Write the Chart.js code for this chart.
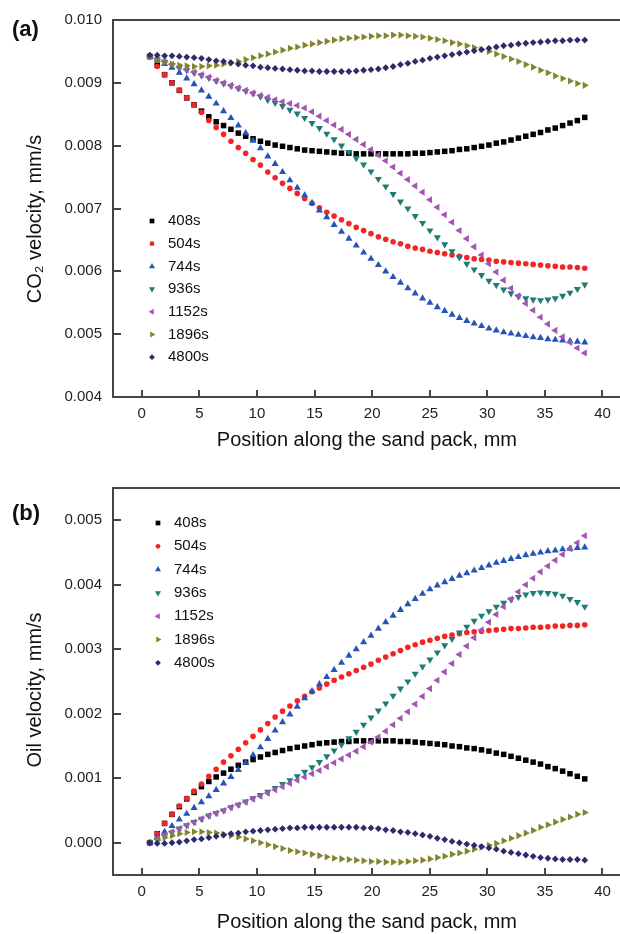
<!DOCTYPE html>
<html>
<head>
<meta charset="utf-8">
<title>CO2 and oil velocity along the sand pack</title>
<script src="https://cdn.jsdelivr.net/npm/chart.js@4.4.1/dist/chart.umd.min.js"></script>
<style>
  body { margin: 0; background: #fff; }
  #wrap { position: relative; width: 620px; height: 934px; overflow: hidden; font-family: 'Liberation Sans', Arial, sans-serif; }
  #wrap canvas { position: absolute; left: 0; }
  #chartA { top: 0; }
  #chartB { top: 460px; }
  .panel { position: absolute; left: 12px; font-size: 22px; line-height: 22px; font-weight: bold; color: #111; }
</style>
</head>
<body>
<div id="wrap">
  <canvas id="chartA" width="625" height="455"></canvas>
  <canvas id="chartB" width="625" height="474"></canvas>
  <div class="panel" style="top:18px">(a)</div>
  <div class="panel" style="top:502px">(b)</div>
</div>
<script>
'use strict';

var seriesNames = ['408s', '504s', '744s', '936s', '1152s', '1896s', '4800s'];
var seriesColors = ['#000000', '#f42424', '#2354b8', '#1d7c74', '#a454b4', '#84842c', '#2c2c6c'];
var pointStyles = ['rect', 'circle', 'triangle', 'triangle', 'triangle', 'triangle', 'rectRot'];
var pointRotations = [0, 0, 0, 180, 270, 90, 0];
var pointRadii = [3.9, 2.8, 4.1, 4.1, 4.1, 4.1, 3.4];

// positions along the sand pack, mm
var positions = [
  0.70, 1.34, 1.98, 2.62, 3.26, 3.90, 4.54, 5.18, 5.82, 6.46,
  7.10, 7.74, 8.38, 9.02, 9.66, 10.30, 10.94, 11.58, 12.22, 12.86,
  13.50, 14.14, 14.78, 15.42, 16.06, 16.70, 17.34, 17.98, 18.62, 19.26,
  19.90, 20.54, 21.18, 21.82, 22.46, 23.10, 23.74, 24.38, 25.02, 25.66,
  26.30, 26.94, 27.58, 28.22, 28.86, 29.50, 30.14, 30.78, 31.42, 32.06,
  32.70, 33.34, 33.98, 34.62, 35.26, 35.90, 36.54, 37.18, 37.82, 38.46
];

var xTicks = [0, 5, 10, 15, 20, 25, 30, 35, 40];
var co2Ticks = [0.004, 0.005, 0.006, 0.007, 0.008, 0.009, 0.010];
var oilTicks = [0.000, 0.001, 0.002, 0.003, 0.004, 0.005];

// CO2 velocity, mm/s
var co2_408 = [
  0.00942, 0.00928, 0.00913, 0.00900, 0.00888, 0.00876, 0.00865, 0.00855, 0.00846, 0.00838,
  0.00832, 0.00826, 0.00820, 0.00815, 0.00811, 0.00807, 0.00804, 0.00801, 0.00799, 0.00797,
  0.00795, 0.00793, 0.00792, 0.00791, 0.00790, 0.00789, 0.00788, 0.00788, 0.00787, 0.00787,
  0.00787, 0.00787, 0.00787, 0.00787, 0.00787, 0.00787, 0.00788, 0.00788, 0.00789, 0.00790,
  0.00791, 0.00792, 0.00794, 0.00795, 0.00797, 0.00799, 0.00801, 0.00804, 0.00806, 0.00809,
  0.00812, 0.00815, 0.00818, 0.00821, 0.00825, 0.00828, 0.00832, 0.00836, 0.00840, 0.00845
];
var co2_504 = [
  0.00942, 0.00926, 0.00913, 0.00900, 0.00888, 0.00876, 0.00865, 0.00853, 0.00840, 0.00829,
  0.00818, 0.00807, 0.00797, 0.00788, 0.00778, 0.00769, 0.00758, 0.00749, 0.00740, 0.00732,
  0.00724, 0.00716, 0.00708, 0.00701, 0.00694, 0.00688, 0.00682, 0.00676, 0.00670, 0.00665,
  0.00660, 0.00655, 0.00651, 0.00647, 0.00644, 0.00640, 0.00637, 0.00635, 0.00632, 0.00630,
  0.00628, 0.00626, 0.00624, 0.00622, 0.00620, 0.00619, 0.00618, 0.00616, 0.00615, 0.00614,
  0.00613, 0.00612, 0.00611, 0.00610, 0.00609, 0.00608, 0.00607, 0.00607, 0.00606, 0.00605
];
var co2_744 = [
  0.00942, 0.00937, 0.00930, 0.00924, 0.00916, 0.00907, 0.00898, 0.00888, 0.00878, 0.00867,
  0.00855, 0.00844, 0.00832, 0.00820, 0.00808, 0.00796, 0.00783, 0.00771, 0.00758, 0.00745,
  0.00733, 0.00721, 0.00709, 0.00697, 0.00686, 0.00674, 0.00663, 0.00652, 0.00641, 0.00630,
  0.00620, 0.00610, 0.00600, 0.00591, 0.00582, 0.00573, 0.00565, 0.00557, 0.00550, 0.00543,
  0.00537, 0.00531, 0.00526, 0.00521, 0.00517, 0.00513, 0.00509, 0.00506, 0.00503, 0.00501,
  0.00499, 0.00497, 0.00495, 0.00494, 0.00492, 0.00491, 0.00490, 0.00489, 0.00488, 0.00487
];
var co2_936 = [
  0.00942, 0.00937, 0.00933, 0.00928, 0.00924, 0.00920, 0.00916, 0.00912, 0.00908, 0.00903,
  0.00899, 0.00895, 0.00891, 0.00887, 0.00883, 0.00878, 0.00873, 0.00868, 0.00863, 0.00857,
  0.00851, 0.00844, 0.00836, 0.00828, 0.00819, 0.00810, 0.00800, 0.00790, 0.00780, 0.00770,
  0.00759, 0.00747, 0.00735, 0.00723, 0.00711, 0.00700, 0.00688, 0.00677, 0.00665, 0.00654,
  0.00643, 0.00632, 0.00622, 0.00612, 0.00603, 0.00594, 0.00585, 0.00578, 0.00571, 0.00565,
  0.00560, 0.00557, 0.00555, 0.00554, 0.00555, 0.00557, 0.00561, 0.00566, 0.00572, 0.00579
];
var co2_1152 = [
  0.00942, 0.00938, 0.00934, 0.00929, 0.00925, 0.00921, 0.00917, 0.00913, 0.00909, 0.00904,
  0.00900, 0.00896, 0.00892, 0.00888, 0.00884, 0.00880, 0.00877, 0.00873, 0.00870, 0.00867,
  0.00864, 0.00860, 0.00854, 0.00847, 0.00840, 0.00833, 0.00826, 0.00818, 0.00810, 0.00802,
  0.00794, 0.00785, 0.00776, 0.00766, 0.00756, 0.00746, 0.00736, 0.00726, 0.00714, 0.00702,
  0.00690, 0.00678, 0.00665, 0.00652, 0.00639, 0.00626, 0.00612, 0.00599, 0.00586, 0.00573,
  0.00561, 0.00549, 0.00538, 0.00527, 0.00516, 0.00506, 0.00496, 0.00487, 0.00478, 0.00470
];
var co2_1896 = [
  0.00942, 0.00937, 0.00933, 0.00930, 0.00928, 0.00927, 0.00926, 0.00926, 0.00927, 0.00928,
  0.00930, 0.00932, 0.00934, 0.00937, 0.00940, 0.00943, 0.00946, 0.00949, 0.00952, 0.00955,
  0.00957, 0.00960, 0.00962, 0.00964, 0.00966, 0.00968, 0.00970, 0.00971, 0.00972, 0.00973,
  0.00974, 0.00975, 0.00975, 0.00976, 0.00976, 0.00975, 0.00974, 0.00973, 0.00971, 0.00969,
  0.00967, 0.00964, 0.00962, 0.00959, 0.00956, 0.00953, 0.00950, 0.00946, 0.00942, 0.00938,
  0.00934, 0.00929, 0.00925, 0.00920, 0.00916, 0.00911, 0.00907, 0.00903, 0.00899, 0.00896
];
var co2_4800 = [
  0.00944, 0.00944, 0.00943, 0.00943, 0.00942, 0.00941, 0.00940, 0.00939, 0.00937, 0.00935,
  0.00934, 0.00932, 0.00930, 0.00928, 0.00927, 0.00925, 0.00924, 0.00923, 0.00922, 0.00921,
  0.00920, 0.00919, 0.00919, 0.00918, 0.00918, 0.00918, 0.00918, 0.00918, 0.00919, 0.00920,
  0.00921, 0.00922, 0.00924, 0.00926, 0.00929, 0.00931, 0.00934, 0.00936, 0.00939, 0.00941,
  0.00943, 0.00945, 0.00947, 0.00949, 0.00951, 0.00953, 0.00955, 0.00957, 0.00959, 0.00960,
  0.00962, 0.00963, 0.00964, 0.00965, 0.00966, 0.00967, 0.00967, 0.00968, 0.00968, 0.00968
];

// Oil velocity, mm/s
var oil_408 = [
  0.00000, 0.00014, 0.00030, 0.00044, 0.00056, 0.00068, 0.00078, 0.00087, 0.00095, 0.00102,
  0.00108, 0.00114, 0.00120, 0.00125, 0.00129, 0.00133, 0.00137, 0.00140, 0.00143, 0.00146,
  0.00148, 0.00150, 0.00152, 0.00154, 0.00155, 0.00156, 0.00157, 0.00157, 0.00158, 0.00158,
  0.00158, 0.00158, 0.00158, 0.00158, 0.00157, 0.00157, 0.00156, 0.00155, 0.00154, 0.00153,
  0.00152, 0.00150, 0.00149, 0.00147, 0.00146, 0.00144, 0.00142, 0.00139, 0.00137, 0.00134,
  0.00131, 0.00128, 0.00125, 0.00122, 0.00118, 0.00115, 0.00111, 0.00107, 0.00103, 0.00099
];
var oil_504 = [
  0.00000, 0.00014, 0.00030, 0.00044, 0.00057, 0.00069, 0.00080, 0.00091, 0.00103, 0.00114,
  0.00125, 0.00135, 0.00145, 0.00155, 0.00165, 0.00175, 0.00185, 0.00195, 0.00204, 0.00212,
  0.00220, 0.00227, 0.00234, 0.00240, 0.00246, 0.00252, 0.00257, 0.00262, 0.00267, 0.00272,
  0.00277, 0.00283, 0.00288, 0.00293, 0.00298, 0.00303, 0.00307, 0.00311, 0.00314, 0.00317,
  0.00320, 0.00322, 0.00324, 0.00326, 0.00327, 0.00328, 0.00329, 0.00330, 0.00331, 0.00332,
  0.00332, 0.00333, 0.00334, 0.00334, 0.00335, 0.00336, 0.00336, 0.00337, 0.00337, 0.00338
];
var oil_744 = [
  0.00000, 0.00008, 0.00017, 0.00026, 0.00036, 0.00045, 0.00054, 0.00063, 0.00072, 0.00082,
  0.00092, 0.00102, 0.00113, 0.00124, 0.00136, 0.00148, 0.00161, 0.00174, 0.00187, 0.00199,
  0.00211, 0.00224, 0.00235, 0.00246, 0.00257, 0.00268, 0.00279, 0.00290, 0.00300, 0.00311,
  0.00321, 0.00332, 0.00342, 0.00352, 0.00361, 0.00370, 0.00378, 0.00386, 0.00393, 0.00399,
  0.00404, 0.00409, 0.00414, 0.00418, 0.00422, 0.00426, 0.00430, 0.00434, 0.00437, 0.00440,
  0.00443, 0.00446, 0.00448, 0.00450, 0.00452, 0.00453, 0.00455, 0.00456, 0.00457, 0.00458
];
var oil_936 = [
  0.00000, 0.00005, 0.00010, 0.00016, 0.00022, 0.00027, 0.00032, 0.00037, 0.00042, 0.00046,
  0.00050, 0.00055, 0.00059, 0.00064, 0.00069, 0.00074, 0.00079, 0.00085, 0.00091, 0.00097,
  0.00103, 0.00110, 0.00117, 0.00125, 0.00134, 0.00143, 0.00152, 0.00162, 0.00172, 0.00183,
  0.00194, 0.00205, 0.00216, 0.00228, 0.00239, 0.00250, 0.00262, 0.00273, 0.00284, 0.00295,
  0.00306, 0.00316, 0.00326, 0.00335, 0.00344, 0.00352, 0.00359, 0.00366, 0.00372, 0.00377,
  0.00381, 0.00385, 0.00387, 0.00388, 0.00387, 0.00386, 0.00383, 0.00378, 0.00373, 0.00366
];
var oil_1152 = [
  0.00000, 0.00006, 0.00012, 0.00017, 0.00022, 0.00027, 0.00032, 0.00037, 0.00042, 0.00046,
  0.00050, 0.00055, 0.00059, 0.00063, 0.00068, 0.00072, 0.00077, 0.00082, 0.00087, 0.00092,
  0.00097, 0.00102, 0.00107, 0.00112, 0.00118, 0.00124, 0.00130, 0.00136, 0.00142, 0.00149,
  0.00156, 0.00164, 0.00173, 0.00183, 0.00193, 0.00203, 0.00215, 0.00227, 0.00239, 0.00252,
  0.00265, 0.00278, 0.00292, 0.00305, 0.00318, 0.00330, 0.00342, 0.00354, 0.00366, 0.00378,
  0.00389, 0.00400, 0.00410, 0.00420, 0.00429, 0.00438, 0.00447, 0.00456, 0.00465, 0.00476
];
var oil_1896 = [
  0.00000, 0.00004, 0.00008, 0.00011, 0.00014, 0.00016, 0.00017, 0.00017, 0.00016, 0.00015,
  0.00013, 0.00011, 0.00009, 0.00006, 0.00003, 0.00000, -0.00003, -0.00006, -0.00009, -0.00012,
  -0.00014, -0.00016, -0.00018, -0.00020, -0.00022, -0.00024, -0.00025, -0.00026, -0.00027, -0.00028,
  -0.00029, -0.00029, -0.00030, -0.00030, -0.00030, -0.00029, -0.00028, -0.00027, -0.00025, -0.00023,
  -0.00021, -0.00018, -0.00016, -0.00013, -0.00010, -0.00007, -0.00004, -0.00001, 0.00003, 0.00007,
  0.00011, 0.00015, 0.00019, 0.00024, 0.00028, 0.00032, 0.00036, 0.00040, 0.00044, 0.00047
];
var oil_4800 = [
  0.00000, -0.00001, -0.00001, 0.00000, 0.00001, 0.00003, 0.00005, 0.00006, 0.00008, 0.00010,
  0.00012, 0.00014, 0.00015, 0.00017, 0.00018, 0.00019, 0.00020, 0.00021, 0.00022, 0.00023,
  0.00023, 0.00024, 0.00024, 0.00024, 0.00024, 0.00024, 0.00024, 0.00024, 0.00024, 0.00023,
  0.00023, 0.00022, 0.00020, 0.00019, 0.00017, 0.00016, 0.00014, 0.00012, 0.00010, 0.00007,
  0.00005, 0.00002, 0.00000, -0.00002, -0.00004, -0.00006, -0.00008, -0.00010, -0.00013, -0.00015,
  -0.00017, -0.00019, -0.00021, -0.00023, -0.00024, -0.00025, -0.00026, -0.00026, -0.00026, -0.00027
];

Chart.defaults.font.family = "'Liberation Sans', Arial, sans-serif";
Chart.defaults.color = '#222';

var AXIS_COLOR = '#444';
var FONT = "'Liberation Sans', Arial, sans-serif";

// later datasets are drawn over earlier ones
function makeDatasets(series) {
  return series.map(function (values, i) {
    return {
      label: seriesNames[i],
      data: values.map(function (v, k) { return { x: positions[k], y: v }; }),
      showLine: false,
      pointStyle: pointStyles[i],
      pointRotation: pointRotations[i],
      pointRadius: pointRadii[i],
      pointHoverRadius: pointRadii[i],
      pointBackgroundColor: seriesColors[i],
      pointBorderColor: seriesColors[i],
      pointBorderWidth: 0,
      order: series.length - i
    };
  });
}

// tick marks point into the plot, plus the closing line along the top
var innerTicks = {
  id: 'innerTicks',
  beforeDatasetsDraw: function (chart) {
    var ctx = chart.ctx, area = chart.chartArea;
    var xs = chart.scales.x, ys = chart.scales.y;
    ctx.save();
    ctx.strokeStyle = AXIS_COLOR;
    ctx.lineWidth = 2;
    ctx.beginPath();
    ctx.moveTo(area.left, area.top);
    ctx.lineTo(chart.width, area.top);
    xs.ticks.forEach(function (t) {
      var px = Math.round(xs.getPixelForValue(t.value));
      ctx.moveTo(px, area.bottom);
      ctx.lineTo(px, area.bottom - 7);
    });
    ys.ticks.forEach(function (t) {
      var py = Math.round(ys.getPixelForValue(t.value));
      ctx.moveTo(area.left, py);
      ctx.lineTo(area.left + 8, py);
    });
    ctx.stroke();
    ctx.restore();
  }
};

// rotated y title, set a little below the middle of the axis
var yTitle = {
  id: 'yTitle',
  afterDraw: function (chart, args, opts) {
    var ctx = chart.ctx;
    ctx.save();
    ctx.translate(opts.x, opts.y);
    ctx.rotate(-Math.PI / 2);
    ctx.font = '20px ' + FONT;
    ctx.fillStyle = '#111';
    ctx.textAlign = 'center';
    ctx.textBaseline = 'middle';
    ctx.fillText(opts.text, 0, 0);
    ctx.restore();
  }
};

// legend drawn inside the plot area, one row per dataset
var insideLegend = {
  id: 'insideLegend',
  afterDraw: function (chart, args, opts) {
    var ctx = chart.ctx;
    ctx.save();
    ctx.font = '15px ' + FONT;
    ctx.textBaseline = 'middle';
    chart.data.datasets.forEach(function (ds, i) {
      var y = opts.y + i * opts.step;
      ctx.fillStyle = ds.pointBackgroundColor;
      Chart.helpers.drawPoint(ctx, {
        pointStyle: ds.pointStyle,
        rotation: ds.pointRotation,
        radius: ds.pointRadius * 0.85,
        borderWidth: 0
      }, opts.x, y);
      ctx.fillStyle = '#111';
      ctx.fillText(ds.label, opts.textX, y);
    });
    ctx.restore();
  }
};

function makeOptions(cfg) {
  return {
    responsive: false,
    animation: false,
    layout: { padding: { top: cfg.padTop, right: 0, bottom: 0, left: 0 } },
    plugins: {
      legend: { display: false },
      tooltip: { enabled: false },
      yTitle: { text: cfg.yTitle, x: 35, y: cfg.yTitleY },
      insideLegend: { x: cfg.legendX, textX: cfg.legendX + 16, y: cfg.legendY, step: cfg.legendStep }
    },
    scales: {
      x: {
        type: 'linear',
        min: -2.5,
        max: 41.6,
        afterFit: function (s) {
          s.height = cfg.xAxisHeight;
          s.paddingLeft = 0;
          s.paddingRight = 0;
        },
        afterBuildTicks: function (s) { s.ticks = xTicks.map(function (v) { return { value: v }; }); },
        grid: { display: false, drawTicks: false },
        border: { display: true, color: AXIS_COLOR, width: 2 },
        ticks: {
          padding: 8,
          maxRotation: 0,
          autoSkip: false,
          font: { size: 15 },
          callback: function (v) { return String(v); }
        },
        title: {
          display: true,
          text: 'Position along the sand pack, mm',
          color: '#111',
          font: { size: 20 },
          padding: { top: 0, bottom: cfg.xTitlePad }
        }
      },
      y: {
        min: cfg.yMin,
        max: cfg.yMax,
        afterFit: function (s) {
          s.width = 113;
          s.paddingTop = 0;
          s.paddingBottom = 0;
        },
        afterBuildTicks: function (s) { s.ticks = cfg.yTicks.map(function (v) { return { value: v }; }); },
        grid: { display: false, drawTicks: false },
        border: { display: true, color: AXIS_COLOR, width: 2 },
        ticks: {
          padding: 11,
          autoSkip: false,
          font: { size: 15 },
          callback: function (v) { return v.toFixed(3); }
        }
      }
    }
  };
}

new Chart(document.getElementById('chartA'), {
  type: 'scatter',
  data: { datasets: makeDatasets([co2_408, co2_504, co2_744, co2_936, co2_1152, co2_1896, co2_4800]) },
  options: makeOptions({
    padTop: 20, xAxisHeight: 58, xTitlePad: 3,
    yMin: 0.004, yMax: 0.010, yTicks: co2Ticks,
    yTitle: 'CO₂ velocity, mm/s', yTitleY: 219,
    legendX: 152, legendY: 221, legendStep: 22.7
  }),
  plugins: [innerTicks, yTitle, insideLegend]
});

new Chart(document.getElementById('chartB'), {
  type: 'scatter',
  data: { datasets: makeDatasets([oil_408, oil_504, oil_744, oil_936, oil_1152, oil_1896, oil_4800]) },
  options: makeOptions({
    padTop: 28, xAxisHeight: 59, xTitlePad: 0,
    yMin: -0.0005, yMax: 0.0055, yTicks: oilTicks,
    yTitle: 'Oil velocity, mm/s', yTitleY: 230,
    legendX: 158, legendY: 63, legendStep: 23.3
  }),
  plugins: [innerTicks, yTitle, insideLegend]
});
</script>
</body>
</html>
